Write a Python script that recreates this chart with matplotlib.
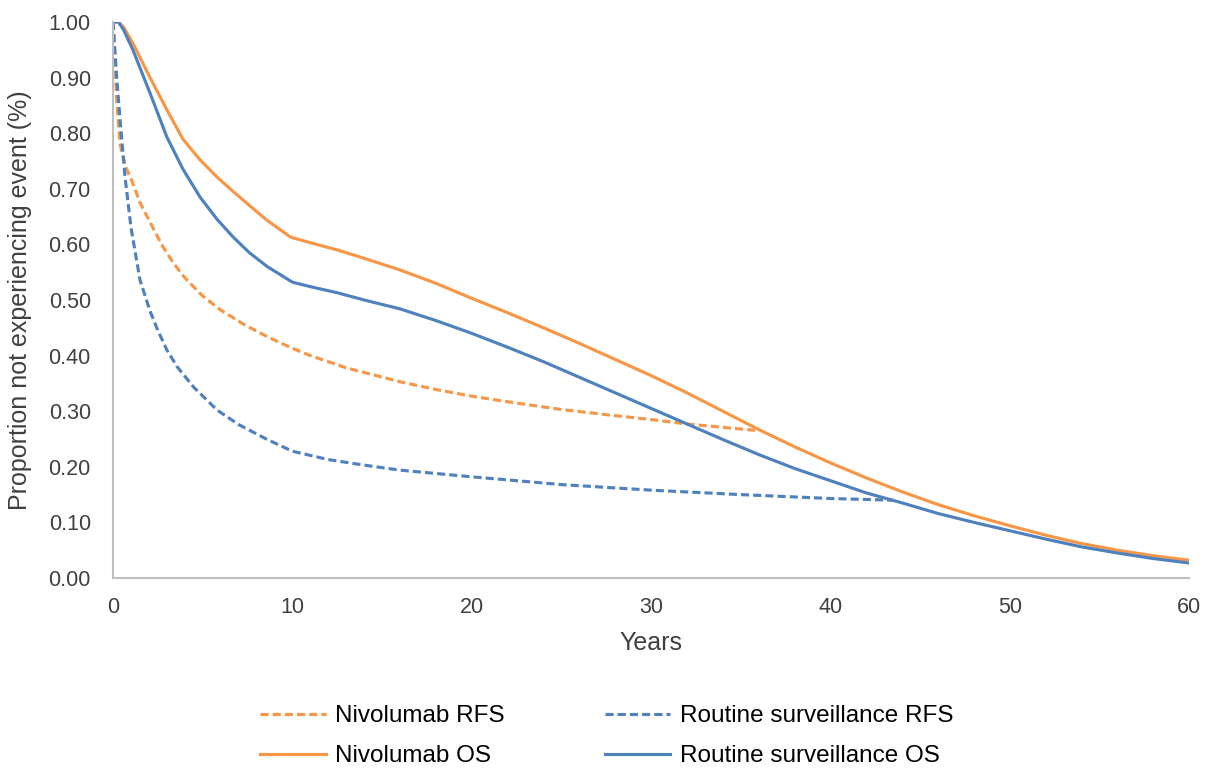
import matplotlib
matplotlib.use("Agg")
import matplotlib.pyplot as plt
from matplotlib.ticker import FormatStrFormatter

plt.rcParams['font.family'] = ['Liberation Sans', 'DejaVu Sans']

ORANGE = '#F79646'
BLUE = '#4F81BD'
TXT = '#404040'

# values
niv_os_x = [0, 0.3, 0.6, 1.1, 2.06, 3, 3.9, 4.85, 5.8, 6.7, 7.6, 8.6, 9.9, 11, 12.5, 14, 16,
            18, 20, 22, 24, 26, 28, 30, 32, 34, 36, 38, 40, 42, 44, 46, 48, 50, 52, 54, 56,
            58, 60]
niv_os_y = [1.0, 1.0, 0.99, 0.962, 0.90, 0.842, 0.789, 0.752, 0.721, 0.695, 0.670, 0.643,
            0.613, 0.603, 0.59, 0.575, 0.554, 0.53, 0.503, 0.477, 0.45, 0.422, 0.393, 0.364,
            0.333, 0.30, 0.267, 0.236, 0.207, 0.18, 0.155, 0.132, 0.112, 0.094, 0.077, 0.062,
            0.05, 0.04, 0.032]

rs_os_x = [0, 0.3, 0.6, 1.1, 2.06, 3, 3.9, 4.85, 5.8, 6.7, 7.6, 8.6, 10, 11, 12.5, 14, 16,
           18, 20, 22, 24, 26, 28, 30, 32, 34, 36, 38, 40, 42, 44, 46, 48, 50, 52, 54, 56,
           58, 60]
rs_os_y = [1.0, 1.0, 0.985, 0.95, 0.872, 0.793, 0.735, 0.685, 0.645, 0.613, 0.585, 0.56,
           0.532, 0.524, 0.513, 0.50, 0.484, 0.463, 0.44, 0.415, 0.389, 0.361, 0.333, 0.305,
           0.277, 0.249, 0.222, 0.197, 0.175, 0.153, 0.135, 0.116, 0.1, 0.085, 0.07, 0.056,
           0.045, 0.035, 0.027]

niv_rfs_x = [0, 0.2, 0.39, 0.7, 1.1, 1.5, 2.06, 2.7, 3.35, 4, 5, 6, 7.3, 8.6, 10, 11,
             13, 16, 18, 20, 22, 25, 28, 30, 32, 34, 36]
niv_rfs_y = [1.0, 0.86, 0.78, 0.74, 0.71, 0.675, 0.64, 0.60, 0.567, 0.54, 0.507, 0.482,
             0.456, 0.434, 0.413, 0.40, 0.378, 0.353, 0.339, 0.327, 0.317, 0.303, 0.292,
             0.285, 0.277, 0.271, 0.265]

rs_rfs_x = [0, 0.2, 0.4, 0.67, 1.0, 1.5, 2.06, 2.5, 3, 3.57, 4.5, 5.8, 7, 8.6, 10, 12, 14,
            16, 18, 20, 25, 30, 35, 40, 43.5]
rs_rfs_y = [1.0, 0.90, 0.82, 0.72, 0.63, 0.536, 0.48, 0.445, 0.41, 0.38, 0.343, 0.302, 0.276,
            0.249, 0.228, 0.213, 0.203, 0.194, 0.188, 0.182, 0.168, 0.158, 0.15, 0.143, 0.14]

fig = plt.figure(figsize=(12.16, 7.71), dpi=100)
ax = fig.add_axes([0.093, 0.2503, 0.885, 0.7212])

dash = (2.6, 1.3)
ax.plot(niv_rfs_x, niv_rfs_y, color=ORANGE, lw=2.25, dashes=dash, label='Nivolumab RFS')
ax.plot(niv_os_x, niv_os_y, color=ORANGE, lw=2.25, label='Nivolumab OS')
ax.plot(rs_rfs_x, rs_rfs_y, color=BLUE, lw=2.25, dashes=dash, label='Routine surveillance RFS')
ax.plot(rs_os_x, rs_os_y, color=BLUE, lw=2.25, label='Routine surveillance OS')

ax.set_xlim(0, 60)
ax.set_ylim(0, 1.0)
ax.set_xticks(range(0, 61, 10))
ax.set_yticks([i / 10 for i in range(11)])
ax.yaxis.set_major_formatter(FormatStrFormatter('%.2f'))
ax.tick_params(length=0, labelsize=15.5, colors=TXT)
ax.tick_params(axis='y', pad=16)
ax.tick_params(axis='x', pad=14)
for s in ['top', 'right']:
    ax.spines[s].set_visible(False)
for s in ['left', 'bottom']:
    ax.spines[s].set_color('#BFBFBF')
    ax.spines[s].set_linewidth(1.5)

ax.set_xlabel('Years', fontsize=18, color=TXT)
ax.set_ylabel('Proportion not experiencing event (%)', fontsize=18, color=TXT)
ax.xaxis.set_label_coords(0.5, -0.095)
ax.yaxis.set_label_coords(-0.075, 0.5)

fig.legend(loc='center', bbox_to_anchor=(0.499, 0.045), ncol=2, frameon=False,
           fontsize=17.5, handlelength=2.7, columnspacing=4.1, labelspacing=0.75,
           handletextpad=0.4)

fig.savefig('out.png', dpi=100)
